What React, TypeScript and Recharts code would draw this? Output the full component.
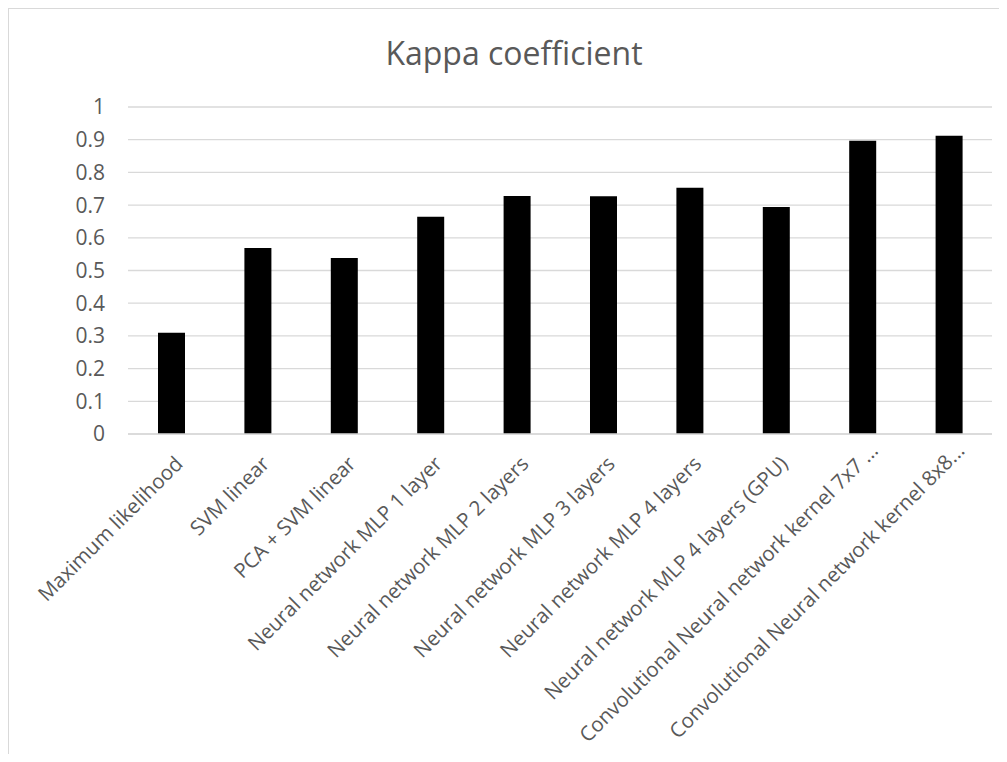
import React from "react";
import { BarChart, Bar, XAxis, YAxis, CartesianGrid } from "recharts";

const categories = [
  "Maximum likelihood",
  "SVM linear",
  "PCA + SVM linear",
  "Neural network MLP 1 layer",
  "Neural network MLP 2 layers",
  "Neural network MLP 3 layers",
  "Neural network MLP 4 layers",
  "Neural network MLP 4 layers (GPU)",
  "Convolutional Neural network kernel 7x7 ...",
  "Convolutional Neural network kernel 8x8...",
];
const kappa = [0.31, 0.569, 0.538, 0.664, 0.728, 0.727, 0.753, 0.694, 0.897, 0.912];
const yTicks = [0, 0.1, 0.2, 0.3, 0.4, 0.5, 0.6, 0.7, 0.8, 0.9, 1];
const title = "Kappa coefficient";

const data = categories.map((name, i) => ({ name, kappa: kappa[i] }));

const FONT = "'Open Sans', sans-serif";
const TEXT = "#595959";
const GRID = "#d9d9d9";

const XTick = (props: any) => {
  const { x, y, payload } = props;
  const truncated = String(payload.value).endsWith("...");
  const dx = truncated ? 17 : 13;
  const dy = truncated ? 18 : 31;
  return (
    <g transform={`translate(${x},${y})`}>
      <text
        x={dx}
        y={dy}
        textAnchor="end"
        transform={`rotate(-45 ${dx} ${dy})`}
        fill={TEXT}
        fontFamily={FONT}
        fontSize={20.5}
      >
        {payload.value}
      </text>
    </g>
  );
};

export default function App() {
  return (
    <div
      style={{
        position: "relative",
        width: 990,
        height: 745,
        borderLeft: `1px solid ${GRID}`,
        borderTop: `1px solid ${GRID}`,
        overflow: "hidden",
        background: "#fff",
      }}
    >
      <svg
        width={989}
        height={100}
        style={{ position: "absolute", left: 0, top: 0 }}
      >
        <text
          x={505}
          y={56}
          textAnchor="middle"
          fontFamily={FONT}
          fontSize={32}
          fill={TEXT}
        >
          {title}
        </text>
      </svg>
      <BarChart
        width={989}
        height={745}
        data={data}
        margin={{ top: 98, right: 6, bottom: 20, left: 0 }}
        barSize={27}
      >
        <CartesianGrid horizontal vertical={false} stroke={GRID} strokeWidth={1.3} />
        <XAxis
          dataKey="name"
          interval={0}
          height={300}
          axisLine={{ stroke: GRID, strokeWidth: 1.3 }}
          tickLine={false}
          tick={<XTick />}
          tickSize={0}
          tickMargin={0}
        />
        <YAxis
          domain={[0, 1]}
          ticks={yTicks}
          width={119}
          axisLine={false}
          tickLine={false}
          tickSize={0}
          tickMargin={23}
          tick={{ fill: TEXT, fontFamily: FONT, fontSize: 21 }}
        />
        <Bar dataKey="kappa" fill="#000" isAnimationActive={false} />
      </BarChart>
    </div>
  );
}
